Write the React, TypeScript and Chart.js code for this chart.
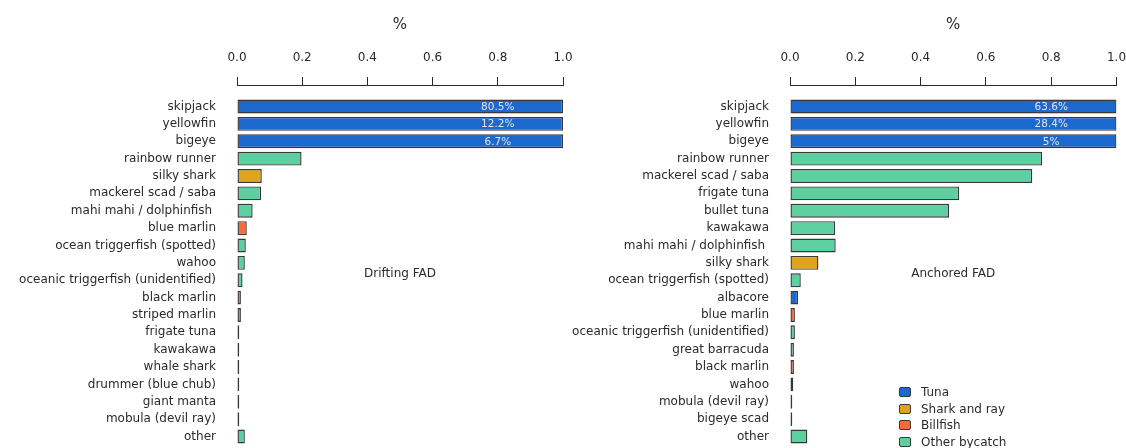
import React, { useEffect, useRef } from "react";
import { Chart, registerables } from "chart.js";

Chart.register(...registerables);

// ---------- data ----------
const driftingSpecies = [
  "skipjack",
  "yellowfin",
  "bigeye",
  "rainbow runner",
  "silky shark",
  "mackerel scad / saba",
  "mahi mahi / dolphinfish ",
  "blue marlin",
  "ocean triggerfish (spotted)",
  "wahoo",
  "oceanic triggerfish (unidentified)",
  "black marlin",
  "striped marlin",
  "frigate tuna",
  "kawakawa",
  "whale shark",
  "drummer (blue chub)",
  "giant manta",
  "mobula (devil ray)",
  "other",
];
const driftingValues = [
  1, 1, 1, 0.198, 0.076, 0.074, 0.048, 0.03, 0.027, 0.024, 0.017, 0.012, 0.012,
  0.007, 0.007, 0.007, 0.007, 0.007, 0.007, 0.024,
];
const driftingGroups = [
  "Tuna", "Tuna", "Tuna", "Other bycatch", "Shark and ray", "Other bycatch",
  "Other bycatch", "Billfish", "Other bycatch", "Other bycatch", "Other bycatch",
  "Billfish", "Billfish", "Other bycatch", "Other bycatch", "Shark and ray",
  "Other bycatch", "Shark and ray", "Shark and ray", "Other bycatch",
];
const driftingTunaShares = ["80.5%", "12.2%", "6.7%"];

const anchoredSpecies = [
  "skipjack",
  "yellowfin",
  "bigeye",
  "rainbow runner",
  "mackerel scad / saba",
  "frigate tuna",
  "bullet tuna",
  "kawakawa",
  "mahi mahi / dolphinfish ",
  "silky shark",
  "ocean triggerfish (spotted)",
  "albacore",
  "blue marlin",
  "oceanic triggerfish (unidentified)",
  "great barracuda",
  "black marlin",
  "wahoo",
  "mobula (devil ray)",
  "bigeye scad",
  "other",
];
const anchoredValues = [
  1, 1, 1, 0.772, 0.742, 0.518, 0.487, 0.138, 0.14, 0.087, 0.033, 0.025, 0.015,
  0.015, 0.012, 0.012, 0.01, 0.007, 0.007, 0.053,
];
const anchoredGroups = [
  "Tuna", "Tuna", "Tuna", "Other bycatch", "Other bycatch", "Other bycatch",
  "Other bycatch", "Other bycatch", "Other bycatch", "Shark and ray",
  "Other bycatch", "Tuna", "Billfish", "Other bycatch", "Other bycatch",
  "Billfish", "Other bycatch", "Shark and ray", "Other bycatch", "Other bycatch",
];
const anchoredTunaShares = ["63.6%", "28.4%", "5%"];

const xTickValues = [0, 0.2, 0.4, 0.6, 0.8, 1.0];
const legendLabels = ["Tuna", "Shark and ray", "Billfish", "Other bycatch"];

// ---------- styles ----------
const groupColors: Record<string, string> = {
  Tuna: "#1b68cf",
  "Shark and ray": "#e0a41c",
  Billfish: "#f36d3b",
  "Other bycatch": "#5dd0a2",
};
const FONT = '"DejaVu Sans", sans-serif';
const TEXT = "#2a2a2a";
const BORDER = "#383838";

function makeConfig(
  species: string[],
  values: number[],
  groups: string[],
  shares: string[],
  panelLabel: string,
  yAxisWidth: number,
  rightPad: number
): any {
  const annotate = {
    id: "annotate",
    afterDatasetsDraw(chart: any) {
      const { ctx, scales } = chart;
      const x = scales.x;
      const y = scales.y;
      ctx.save();
      ctx.textAlign = "center";
      ctx.textBaseline = "middle";
      ctx.font = `10.5px ${FONT}`;
      ctx.fillStyle = "#e4e4e4";
      shares.forEach((s, i) => {
        ctx.fillText(s, x.getPixelForValue(0.8), y.getPixelForValue(i) + 0.5);
      });
      ctx.font = `12px ${FONT}`;
      ctx.fillStyle = TEXT;
      ctx.fillText(panelLabel, x.getPixelForValue(0.5), y.getPixelForValue(9.65));
      ctx.restore();
    },
  };

  return {
    type: "bar",
    data: {
      datasets: [
        {
          data: values.map((v, i) => ({ x: v, y: i })),
          backgroundColor: groups.map((g) => groupColors[g]),
          borderColor: BORDER,
          borderWidth: 1.4,
          borderSkipped: false,
          barPercentage: 0.8,
          categoryPercentage: 1,
        },
      ],
    },
    options: {
      responsive: false,
      animation: false,
      indexAxis: "y",
      layout: { padding: { left: 0, top: 0, right: rightPad, bottom: 2.8 } },
      plugins: {
        legend: { display: false },
        tooltip: { enabled: false },
      },
      scales: {
        x: {
          type: "linear",
          position: "top",
          min: 0,
          max: 1,
          afterBuildTicks: (scale: any) => {
            scale.ticks = xTickValues.map((v) => ({ value: v }));
          },
          afterFit: (scale: any) => {
            scale.height = 85;
            scale.paddingLeft = 0;
            scale.paddingRight = 0;
          },
          ticks: {
            callback: (v: any) => Number(v).toFixed(1),
            color: TEXT,
            font: { family: FONT, size: 12 },
            padding: 12,
            maxRotation: 0,
          },
          grid: {
            drawOnChartArea: false,
            drawTicks: true,
            tickLength: 8,
            color: TEXT,
            lineWidth: 1,
          },
          border: { display: true, color: TEXT, width: 1 },
          title: {
            display: true,
            text: "%",
            color: TEXT,
            font: { family: FONT, size: 15 },
            padding: { top: 16, bottom: 0 },
          },
        },
        y: {
          type: "linear",
          reverse: true,
          min: -1.24,
          max: 19.5,
          offset: false,
          bounds: "data",
          afterBuildTicks: (scale: any) => {
            scale.ticks = species.map((_, i) => ({ value: i }));
          },
          afterFit: (scale: any) => {
            scale.width = yAxisWidth;
            scale.paddingTop = 0;
            scale.paddingBottom = 0;
          },
          ticks: {
            autoSkip: false,
            callback: (v: any) => species[Math.round(Number(v))],
            color: TEXT,
            font: { family: FONT, size: 12 },
            padding: 21,
          },
          grid: { display: false, drawTicks: false },
          border: { display: false },
        },
      },
    },
    plugins: [annotate],
  };
}

export default function App() {
  const leftRef = useRef<HTMLCanvasElement | null>(null);
  const rightRef = useRef<HTMLCanvasElement | null>(null);

  useEffect(() => {
    const left = new Chart(
      leftRef.current as HTMLCanvasElement,
      makeConfig(driftingSpecies, driftingValues, driftingGroups, driftingTunaShares, "Drifting FAD", 237, 17)
    );
    const right = new Chart(
      rightRef.current as HTMLCanvasElement,
      makeConfig(anchoredSpecies, anchoredValues, anchoredGroups, anchoredTunaShares, "Anchored FAD", 230, 9.5)
    );
    return () => {
      left.destroy();
      right.destroy();
    };
  }, []);

  const legendTop = [392, 408.5, 425, 441.5];

  return (
    <div
      style={{
        position: "absolute",
        left: 0,
        top: 0,
        width: 1126,
        height: 448,
        background: "#ffffff",
        overflow: "hidden",
      }}
    >
      <canvas
        ref={leftRef}
        width={580}
        height={448}
        style={{ position: "absolute", left: 0, top: 0, width: 580, height: 448 }}
      />
      <canvas
        ref={rightRef}
        width={566}
        height={448}
        style={{ position: "absolute", left: 560, top: 0, width: 566, height: 448 }}
      />
      {legendLabels.map((label, i) => (
        <div
          key={label}
          style={{
            position: "absolute",
            left: 899,
            top: legendTop[i] - 8,
            height: 16,
            display: "flex",
            alignItems: "center",
            fontFamily: FONT,
            fontSize: 12,
            color: TEXT,
            whiteSpace: "nowrap",
          }}
        >
          <span
            style={{
              display: "inline-block",
              width: 10,
              height: 8,
              background: groupColors[label],
              border: `1.2px solid ${BORDER}`,
              borderRadius: 2,
              marginRight: 10,
            }}
          />
          {label}
        </div>
      ))}
    </div>
  );
}
